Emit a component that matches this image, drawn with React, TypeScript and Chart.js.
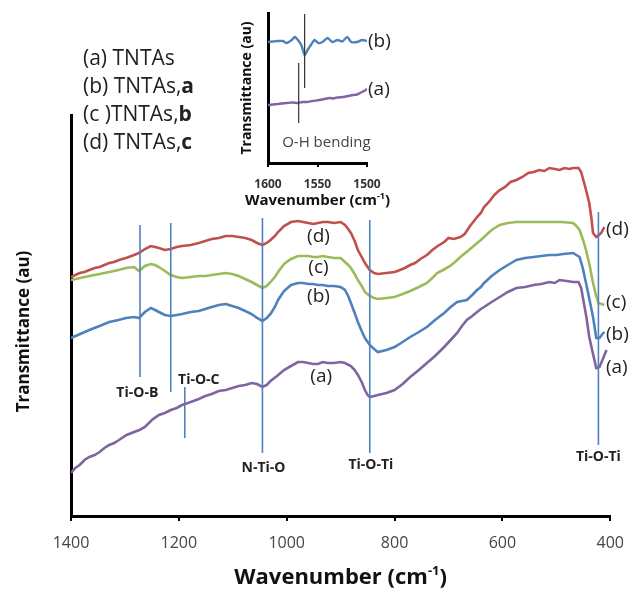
import React, { useEffect, useRef } from "react";
import { Chart, registerables } from "chart.js";
Chart.register(...registerables);

const FONT = '"Open Sans", "DejaVu Sans", sans-serif';

// ---- main FTIR spectra: [wavenumber cm-1, transmittance (a.u.)] ----
const seriesA: [number, number][] = [[1400,43],[1392,48],[1384,51],[1375,56],[1366,59],[1356,61],[1347,64],[1338,68],[1329,71],[1320,73],[1311,76],[1297,81],[1283,84],[1273,86],[1263,89],[1250,96],[1237,101],[1226,103],[1215,106],[1204,108],[1194,111],[1178,114],[1163,117],[1151,120],[1139,122],[1126,125],[1113,126],[1101,128],[1089,130],[1077,131],[1065,133],[1055,132],[1045,129],[1037,131],[1030,135],[1018,140],[1005,146],[992,150],[979,154],[970,154],[960,153],[951,152],[942,152],[933,154],[924,153],[912,153],[900,154],[892,153],[881,150],[874,146],[868,141],[861,134],[855,126],[850,121],[846,119],[838,120],[831,121],[815,123],[800,126],[785,132],[771,139],[755,146],[740,153],[725,160],[708,169],[696,176],[684,183],[675,190],[666,196],[656,200],[647,204],[640,207],[634,209],[620,214],[605,219],[590,224],[574,228],[558,229],[542,231],[528,232],[513,234],[503,233],[494,236],[481,235],[469,234],[459,234],[454,228],[450,216],[444,198],[439,179],[432,162],[426,148],[420,149],[413,158],[407,166]];
const seriesB: [number, number][] = [[1400,178],[1383,182],[1366,186],[1347,190],[1329,194],[1312,196],[1298,198],[1283,199],[1274,198],[1263,204],[1252,208],[1244,206],[1237,204],[1226,201],[1215,200],[1204,201],[1194,202],[1178,204],[1163,205],[1151,207],[1139,209],[1126,211],[1113,212],[1101,210],[1089,208],[1077,205],[1065,202],[1055,198],[1045,195],[1037,198],[1030,202],[1022,209],[1016,216],[1005,225],[992,231],[979,233],[970,233],[960,232],[951,232],[942,231],[933,231],[924,230],[912,230],[900,229],[892,226],[886,220],[881,213],[874,203],[868,194],[861,185],[855,178],[846,171],[838,167],[831,164],[815,166],[800,169],[785,174],[771,179],[755,184],[740,189],[725,196],[708,203],[696,209],[684,214],[675,215],[666,216],[656,221],[647,226],[640,229],[634,233],[620,240],[605,246],[590,251],[574,256],[558,258],[542,259],[528,260],[513,261],[500,261],[487,262],[469,263],[457,259],[451,248],[445,233],[438,215],[432,199],[426,178],[420,178],[416,181],[411,184]];
const seriesC: [number, number][] = [[1400,236],[1383,238],[1366,240],[1347,242],[1329,244],[1312,246],[1298,248],[1283,249],[1274,245],[1263,250],[1252,252],[1244,251],[1237,249],[1226,245],[1215,241],[1204,239],[1194,238],[1178,239],[1163,240],[1151,240],[1139,241],[1126,242],[1113,243],[1101,242],[1089,240],[1077,237],[1065,234],[1055,231],[1045,228],[1037,230],[1030,234],[1022,239],[1016,244],[1005,252],[992,257],[979,260],[970,260],[960,260],[951,259],[942,259],[933,260],[924,259],[912,258],[900,258],[892,254],[886,251],[881,248],[874,242],[868,236],[861,230],[855,224],[846,220],[838,218],[831,217],[815,218],[800,219],[785,222],[771,225],[755,229],[740,233],[730,238],[721,243],[710,246],[697,250],[688,254],[678,259],[662,266],[647,273],[640,276],[634,279],[620,286],[605,291],[590,293],[574,294],[558,294],[542,294],[528,294],[513,294],[490,294],[469,293],[463,290],[457,286],[451,277],[445,266],[438,250],[432,233],[427,222],[422,213],[416,212],[411,211]];
const seriesD: [number, number][] = [[1400,239],[1392,241],[1384,243],[1375,244],[1366,246],[1356,248],[1347,249],[1338,251],[1329,253],[1320,254],[1311,256],[1298,258],[1283,261],[1274,263],[1263,267],[1252,270],[1244,269],[1237,268],[1226,266],[1215,267],[1204,269],[1194,270],[1178,271],[1163,273],[1151,275],[1139,277],[1126,278],[1113,280],[1101,280],[1089,279],[1077,278],[1065,276],[1055,273],[1045,271],[1037,273],[1030,276],[1022,280],[1016,284],[1005,290],[992,294],[979,295],[970,294],[960,293],[951,292],[942,293],[933,294],[924,294],[912,293],[900,294],[892,291],[886,287],[881,283],[874,275],[868,266],[861,259],[855,253],[846,246],[838,243],[831,242],[815,243],[800,244],[790,246],[781,248],[771,251],[762,253],[752,257],[740,261],[730,266],[720,270],[708,274],[700,278],[690,277],[678,279],[670,282],[660,290],[647,299],[640,303],[634,309],[625,314],[615,321],[605,326],[595,329],[585,334],[574,336],[563,339],[552,343],[542,344],[532,346],[522,345],[513,348],[503,347],[494,346],[485,348],[476,347],[469,348],[459,348],[454,344],[450,336],[445,326],[439,313],[435,298],[432,283],[426,279],[421,281],[417,283],[411,289]];

const seriesTags = ["(a)", "(b)", "(c)", "(d)"];
const seriesColors = ["#8064A2", "#4F81BD", "#9BBB59", "#C0504D"];
const midTagWave = [936, 941, 941, 941];
const midTagValue = [139, 219, 248, 279];
const endTagWave = [408, 408, 408, 408];
const endTagValue = [148, 181, 213, 286];

// band marker lines
const bandWave = [1272, 1215, 1189, 1045, 846, 422];
const bandTop = [291, 293, 129, 298, 296, 304];
const bandBottom = [139, 124, 78, 63, 63, 71];
const bandNames = ["Ti-O-B", "Ti-O-C", "N-Ti-O", "Ti-O-Ti", "Ti-O-Ti"];
const bandNameWave = [1277, 1163, 1043, 844, 422];
const bandNameValue = [123, 136, 48, 51, 59];

const xMin = 400, xMax = 1400, xStep = 200;
const yMin = 0, yMax = 401;

// ---- inset (O-H bending) ----
const insetA: [number, number][] = [[1600,58],[1595,58.5],[1590,59],[1586,59.5],[1581,60],[1575,60.5],[1570,60],[1565,61],[1561,61],[1555,62],[1548,63],[1543,64],[1538,65],[1534,64.5],[1530,65.5],[1524,66],[1519,67],[1514,68],[1510,68.5],[1507,70],[1503,72],[1500,74]];
const insetB: [number, number][] = [[1600,121],[1595,121.5],[1590,122],[1585,122],[1581,120],[1576,123],[1573,126],[1569,122],[1566,117],[1563,108],[1560,113],[1556,119],[1553,123],[1549,120],[1545,121],[1540,125],[1535,121],[1530,123],[1525,121.5],[1520,126],[1516,121],[1510,121],[1505,123],[1500,122]];
const insetTags = ["(a)", "(b)"];
const insetTagWave = [1499, 1499];
const insetTagValue = [73, 121];
const insetBandWave = [1563, 1569];
const insetBandTop = [149, 100];
const insetBandBottom = [75, 40];
const insetNote = "O-H bending";
const insetNoteWave = 1541;
const insetNoteValue = 20;
const insetXMin = 1500, insetXMax = 1600, insetXStep = 50;
const insetYMin = 0, insetYMax = 150;

const legendLines = [
  { prefix: "(a) TNTAs", bold: "" },
  { prefix: "(b) TNTAs,", bold: "a" },
  { prefix: "(c )TNTAs,", bold: "b" },
  { prefix: "(d) TNTAs,", bold: "c" },
];

type TextItem = { text: string; x: number; y: number; font: string; color: string; align: CanvasTextAlign };

function drawWaveTitle(ctx: CanvasRenderingContext2D, cx: number, cy: number, size: number) {
  const main = "Wavenumber (cm";
  const sup = "-1";
  const close = ")";
  const f1 = `bold ${size}px ${FONT}`;
  const f2 = `bold ${Math.round(size * 0.58)}px ${FONT}`;
  ctx.font = f1;
  const w1 = ctx.measureText(main).width;
  const w3 = ctx.measureText(close).width;
  ctx.font = f2;
  const w2 = ctx.measureText(sup).width;
  let x = cx - (w1 + w2 + w3) / 2;
  ctx.fillStyle = "#111";
  ctx.textAlign = "left";
  ctx.textBaseline = "middle";
  ctx.font = f1;
  ctx.fillText(main, x, cy);
  x += w1;
  ctx.font = f2;
  ctx.fillText(sup, x, cy - size * 0.3);
  x += w2;
  ctx.font = f1;
  ctx.fillText(close, x, cy);
}

function textPlugin(id: string, items: TextItem[], extra?: (chart: any) => void) {
  return {
    id,
    afterDatasetsDraw(chart: any) {
      const { ctx, scales } = chart;
      ctx.save();
      for (const it of items) {
        const px = scales.x.getPixelForValue(it.x);
        const py = scales.y.getPixelForValue(it.y);
        ctx.font = it.font;
        ctx.fillStyle = it.color;
        ctx.textAlign = it.align;
        ctx.textBaseline = "middle";
        ctx.fillText(it.text, px, py);
      }
      if (extra) extra(chart);
      ctx.restore();
    },
  };
}

const toPts = (s: [number, number][]) => s.map(([x, y]) => ({ x, y }));
const plainTick = (v: any) => String(v);

export default function App() {
  const mainRef = useRef<HTMLCanvasElement>(null);
  const insetRef = useRef<HTMLCanvasElement>(null);

  useEffect(() => {
    const curves = [seriesD, seriesC, seriesB, seriesA];
    const curveColors = [seriesColors[3], seriesColors[2], seriesColors[1], seriesColors[0]];
    const datasets: any[] = bandWave.map((w, i) => ({
      data: [{ x: w, y: bandTop[i] }, { x: w, y: bandBottom[i] }],
      borderColor: "#4F81BD",
      borderWidth: 1.6,
      pointRadius: 0,
    }));
    curves.forEach((s, i) => {
      datasets.push({
        data: toPts(s),
        borderColor: curveColors[i],
        borderWidth: 2.6,
        pointRadius: 0,
        tension: 0,
      });
    });

    const items: TextItem[] = [];
    seriesTags.forEach((t, i) => {
      items.push({ text: t, x: midTagWave[i], y: midTagValue[i], font: `19px ${FONT}`, color: "#222", align: "center" });
      items.push({ text: t, x: endTagWave[i], y: endTagValue[i], font: `19px ${FONT}`, color: "#222", align: "left" });
    });
    bandNames.forEach((t, i) => {
      items.push({ text: t, x: bandNameWave[i], y: bandNameValue[i], font: `bold 14px ${FONT}`, color: "#222", align: "center" });
    });

    const main = new Chart(mainRef.current!, {
      type: "line",
      data: { datasets },
      plugins: [
        textPlugin("mainText", items, (chart: any) => {
          const { ctx, chartArea } = chart;
          ctx.save();
          ctx.translate(24, (chartArea.top + chartArea.bottom) / 2 + 16);
          ctx.rotate(-Math.PI / 2);
          ctx.font = `bold 17px ${FONT}`;
          ctx.fillStyle = "#111";
          ctx.textAlign = "center";
          ctx.textBaseline = "middle";
          ctx.fillText("Transmittance (au)", 0, 0);
          ctx.restore();
          ctx.save();
          drawWaveTitle(ctx, (chartArea.left + chartArea.right) / 2, chartArea.bottom + 62, 22);
          ctx.restore();
        }),
      ],
      options: {
        responsive: false,
        animation: false,
        events: [],
        layout: { padding: { top: 115, right: 23, left: 0, bottom: 0 } },
        plugins: { legend: { display: false }, tooltip: { enabled: false } },
        scales: {
          x: {
            type: "linear",
            reverse: true,
            min: xMin,
            max: xMax,
            afterFit: (s: any) => { s.height = 78; },
            ticks: { stepSize: xStep, font: { family: FONT, size: 16 }, color: "#444", padding: 13, maxRotation: 0, callback: plainTick },
            grid: { display: true, drawOnChartArea: false, drawTicks: true, tickLength: 5, color: "#000", lineWidth: 2 },
            border: { display: true, color: "#000", width: 3 },
          },
          y: {
            type: "linear",
            min: yMin,
            max: yMax,
            afterFit: (s: any) => { s.width = 71; },
            ticks: { display: false },
            grid: { display: false },
            border: { display: true, color: "#000", width: 3 },
          },
        },
      } as any,
    });

    const insetItems: TextItem[] = insetTags.map((t, i) => ({
      text: t, x: insetTagWave[i], y: insetTagValue[i], font: `19px ${FONT}`, color: "#222", align: "left" as CanvasTextAlign,
    }));
    insetItems.push({ text: insetNote, x: insetNoteWave, y: insetNoteValue, font: `15px ${FONT}`, color: "#444", align: "center" });

    const insetDatasets: any[] = insetBandWave.map((w, i) => ({
      data: [{ x: w, y: insetBandTop[i] }, { x: w, y: insetBandBottom[i] }],
      borderColor: "#333",
      borderWidth: 1.2,
      pointRadius: 0,
    }));
    insetDatasets.push({ data: toPts(insetB), borderColor: seriesColors[1], borderWidth: 2.4, pointRadius: 0, tension: 0.2 });
    insetDatasets.push({ data: toPts(insetA), borderColor: seriesColors[0], borderWidth: 2.4, pointRadius: 0, tension: 0.2 });

    const inset = new Chart(insetRef.current!, {
      type: "line",
      data: { datasets: insetDatasets },
      plugins: [
        textPlugin("insetText", insetItems, (chart: any) => {
          const { ctx, chartArea } = chart;
          ctx.save();
          drawWaveTitle(ctx, (chartArea.left + chartArea.right) / 2, chartArea.bottom + 38, 15);
          ctx.restore();
        }),
      ],
      options: {
        responsive: false,
        animation: false,
        events: [],
        layout: { padding: { top: 13, right: 33, left: 0, bottom: 0 } },
        plugins: { legend: { display: false }, tooltip: { enabled: false } },
        scales: {
          x: {
            type: "linear",
            reverse: true,
            min: insetXMin,
            max: insetXMax,
            afterFit: (s: any) => { s.height = 52; },
            ticks: { stepSize: insetXStep, font: { family: FONT, size: 12, weight: "bold" }, color: "#333", padding: 10, maxRotation: 0, callback: plainTick },
            grid: { display: true, drawOnChartArea: false, drawTicks: true, tickLength: 4, color: "#000", lineWidth: 2 },
            border: { display: true, color: "#000", width: 3 },
          },
          y: {
            type: "linear",
            min: insetYMin,
            max: insetYMax,
            afterFit: (s: any) => { s.width = 48; },
            ticks: { display: false },
            grid: { display: false },
            border: { display: true, color: "#000", width: 3 },
            title: { display: true, text: "Transmittance (au)", font: { family: FONT, size: 14, weight: "bold" }, color: "#111", padding: { top: 19, bottom: 0 } },
          },
        },
      } as any,
    });

    return () => { main.destroy(); inset.destroy(); };
  }, []);

  return (
    <div style={{ position: "fixed", left: 0, top: 0, width: 637, height: 594, background: "#fff", overflow: "hidden" }}>
      <canvas ref={mainRef} width={637} height={594} style={{ position: "absolute", left: 0, top: 0 }} />
      <canvas ref={insetRef} width={180} height={215} style={{ position: "absolute", left: 220, top: 0 }} />
      <div style={{ position: "absolute", left: 83, top: 43, fontFamily: FONT, fontSize: 21, color: "#222", lineHeight: "28px", whiteSpace: "pre" }}>
        {legendLines.map((l, i) => (
          <div key={i}>{l.prefix}<b>{l.bold}</b></div>
        ))}
      </div>
    </div>
  );
}
